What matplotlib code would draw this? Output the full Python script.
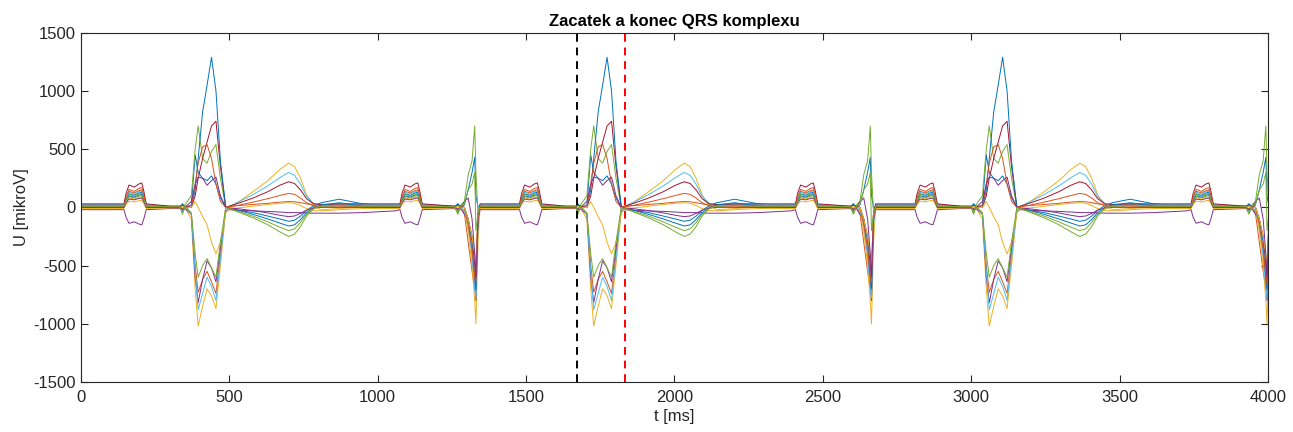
import numpy as np
import matplotlib
matplotlib.use("Agg")
import matplotlib.pyplot as plt

plt.rcParams['font.family'] = ['Liberation Sans', 'DejaVu Sans']
plt.rcParams['axes.unicode_minus'] = False

# one heart cycle (ms), repeated through the record
period = 1333
t_cycle = [20, 100,
           145, 152, 162, 180, 195, 205, 212, 220,          # P
           300, 335, 342, 350,
           372, 385, 395, 410, 425, 440, 455, 470, 488,     # wide QRS
           500, 530, 580, 630, 670, 700, 720, 740, 760, 785, 810,  # T
           870, 950, 1060,
           1075, 1082, 1092, 1110, 1125, 1135, 1142, 1150,  # P
           1260, 1270, 1280,
           1292, 1305, 1318, 1327, 1331, 1338, 1345]        # narrow QRS

# lead values (mikroV) read at the t_cycle points
lead1 = [10, 10,
         10, 70, 117, 104, 124, 130, 82, 10,
         5, 5, 30, 0,
         20, 450, 300, 250, 230, 270, 200, 80, 0,
         -10, -25, -45, -75, -100, -120, -110, -75, -25, 15, 40,
         70, 30, 10,
         10, 70, 117, 104, 124, 130, 82, 10,
         5, 30, 0,
         20, 150, 300, 430, 100, 0, 10]
lead2 = [20, 20,
         20, 85, 137, 124, 143, 150, 98, 20,
         10, 10, -20, 10,
         -50, -500, -730, -620, -550, -640, -740, -400, 0,
         10, 15, 25, 35, 45, 50, 48, 40, 30, 22, 20,
         25, 20, 20,
         20, 85, 137, 124, 143, 150, 98, 20,
         10, -20, 10,
         -50, -300, -550, -700, -500, -50, 20]
lead3 = [0, 0,
         0, 45, 81, 72, 86, 90, 54, 0,
         0, 0, 20, 0,
         -100, -700, -1020, -850, -700, -760, -870, -500, -30,
         0, 45, 135, 230, 325, 380, 350, 250, 110, 10, -20,
         -10, 0, 0,
         0, 45, 81, 72, 86, 90, 54, 0,
         0, 20, 0,
         -30, -200, -500, -800, -1000, -300, 0]
lead4 = [-20, -20,
         -20, -85, -137, -124, -143, -150, -98, -20,
         -10, -10, -40, -10,
         -60, -600, -820, -620, -460, -520, -640, -350, -30,
         -20, -25, -30, -35, -40, -45, -45, -45, -48, -50, -50,
         -50, -45, -30,
         -20, -85, -137, -124, -143, -150, -98, -20,
         -10, -40, -10,
         -60, -100, -400, -650, -800, -100, -20]
lead5 = [15, 15,
         15, 68, 110, 99, 114, 120, 78, 15,
         5, 5, -60, 20,
         100, 500, 700, 420, 380, 480, 540, 250, 0,
         -10, -40, -90, -150, -210, -250, -230, -165, -75, -10, 10,
         20, 15, 15,
         15, 68, 110, 99, 114, 120, 78, 15,
         5, -60, 20,
         50, 280, 400, 700, 300, -50, 15]
lead6 = [25, 25,
         25, 83, 129, 117, 134, 140, 94, 25,
         10, 10, -30, 10,
         -60, -550, -880, -740, -600, -680, -800, -450, 0,
         10, 45, 110, 185, 255, 300, 275, 200, 95, 30, 20,
         30, 25, 25,
         25, 83, 129, 117, 134, 140, 94, 25,
         10, -30, 10,
         -30, -150, -400, -700, -780, -150, 25]
lead7 = [30, 30,
         30, 120, 192, 174, 201, 210, 138, 30,
         10, 10, 20, 10,
         0, 100, 250, 420, 560, 700, 740, 350, 0,
         10, 35, 80, 135, 190, 220, 205, 150, 75, 30, 25,
         30, 30, 30,
         30, 120, 192, 174, 201, 210, 138, 30,
         10, 20, 10,
         0, -100, -250, -500, -600, -100, 30]
lead8 = [0, 0,
         0, 55, 99, 88, 105, 110, 66, 0,
         0, 0, 30, 0,
         0, 150, 420, 820, 1050, 1290, 1000, 400, 0,
         -10, -25, -60, -100, -135, -160, -150, -105, -45, 0, 20,
         40, 10, 0,
         0, 55, 99, 88, 105, 110, 66, 0,
         0, 30, 0,
         0, -100, -300, -600, -700, -100, 0]
lead9 = [5, 5,
         5, 88, 154, 137, 162, 170, 104, 5,
         5, 5, -10, 5,
         0, 200, 380, 520, 540, 420, 200, 50, 0,
         5, 18, 45, 75, 102, 120, 112, 80, 40, 12, 10,
         10, 5, 5,
         5, 88, 154, 137, 162, 170, 104, 5,
         5, -10, 5,
         0, -150, -350, -600, -650, -100, 5]
lead10 = [-10, -10,
          -10, 25, 53, 46, 57, 60, 32, -10,
          -5, -5, 10, -5,
          0, 50, 0, -80, -150, -300, -400, -300, -50,
          -10, -5, 10, 25, 35, 40, 35, 15, -10, -28, -30,
          -20, -10, -10,
          -10, 25, 53, 46, 57, 60, 32, -10,
          -5, 10, -5,
          0, -100, -250, -400, -500, -50, -10]
lead11 = [0, 0,
          0, 40, 72, 64, 76, 80, 48, 0,
          0, 0, -20, 0,
          50, 200, 260, 250, 190, 230, 260, 100, 0,
          -5, -12, -28, -48, -68, -80, -74, -52, -24, -5, 0,
          0, 0, 0,
          0, 40, 72, 64, 76, 80, 48, 0,
          0, -20, 0,
          50, 80, -100, -400, -600, -50, 0]
lead12 = [10, 10,
          10, 55, 91, 82, 96, 100, 64, 10,
          5, 5, -50, 10,
          -50, -400, -600, -500, -440, -520, -600, -300, 0,
          -10, -35, -75, -125, -170, -200, -185, -130, -60, -8, 10,
          15, 10, 10,
          10, 55, 91, 82, 96, 100, 64, 10,
          5, -50, 10,
          30, 150, 200, 300, -200, -50, 10]

leads = [lead1, lead2, lead3, lead4, lead5, lead6,
         lead7, lead8, lead9, lead10, lead11, lead12]

qrs_start = 1672
qrs_end = 1833

# matlab default colour order
colors = ['#0072BD', '#D95319', '#EDB120', '#7E2F8E',
          '#77AC30', '#4DBEEE', '#A2142F']

n_cycles = 3
t_all = np.concatenate([[0]] + [np.array(t_cycle) + k * period for k in range(n_cycles)])

fig = plt.figure(figsize=(12.93, 4.32), dpi=100)
ax = fig.add_axes([0.0626, 0.116, 0.918, 0.808])

for i, lead in enumerate(leads):
    v = np.concatenate([[lead[0]]] + [np.array(lead)] * n_cycles)
    ax.plot(t_all, v, color=colors[i % 7], lw=0.7)

ax.axvline(qrs_start, color='k', ls='--', lw=1.4, dashes=(4, 3))
ax.axvline(qrs_end, color='r', ls='--', lw=1.4, dashes=(4, 3))

ax.set_xlim(0, 4000)
ax.set_ylim(-1500, 1500)
ax.set_xticks(np.arange(0, 4001, 500))
ax.set_yticks(np.arange(-1500, 1501, 500))
ax.tick_params(direction='in', length=5, colors='#262626', labelsize=12,
               top=True, right=True)
ax.tick_params(axis='x', pad=6)
for s in ax.spines.values():
    s.set_color('#262626')
    s.set_linewidth(0.8)
ax.set_title('Zacatek a konec QRS komplexu', fontsize=12, fontweight='bold', pad=5)
ax.set_xlabel('t [ms]', fontsize=12, color='#262626', labelpad=3)
ax.set_ylabel('U [mikroV]', fontsize=12, color='#262626', labelpad=3)

fig.savefig('out.png', dpi=100)
